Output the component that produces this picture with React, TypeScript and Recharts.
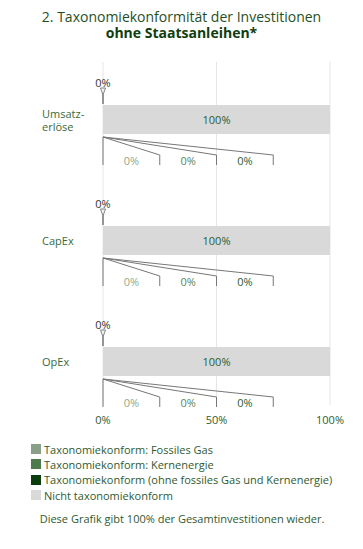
import React from "react";
import { BarChart, Bar, XAxis, YAxis, CartesianGrid, LabelList } from "recharts";

// ---- data ----
const categories = ["Umsatzerlöse", "CapEx", "OpEx"];
const fossilesGas = [0, 0, 0];
const kernenergie = [0, 0, 0];
const ohneGasKern = [0, 0, 0];
const nichtKonform = [100, 100, 100];
const xTicks = [0, 50, 100];
const categoryLines: Record<string, string[]> = {
  "Umsatzerlöse": ["Umsatz-", "erlöse"],
};

const seriesNames = [
  "Taxonomiekonform: Fossiles Gas",
  "Taxonomiekonform: Kernenergie",
  "Taxonomiekonform (ohne fossiles Gas und Kernenergie)",
  "Nicht taxonomiekonform",
];
const seriesKeys = ["gas", "kern", "ohne", "nicht"];
const seriesValues = [fossilesGas, kernenergie, ohneGasKern, nichtKonform];
const seriesColors = ["#8a9f88", "#4d7a4d", "#0b3c0b", "#d9d9d9"];
const labelColors = ["#8fa98c", "#5b865b", "#2f5c2f"];

const data = categories.map((c, i) => ({
  name: c,
  gas: fossilesGas[i],
  kern: kernenergie[i],
  ohne: ohneGasKern[i],
  nicht: nichtKonform[i],
}));

// ---- layout ----
const FONT = "'Open Sans', sans-serif";
const W = 363;
const H = 452;
const MARGIN = { top: 59, right: 33, bottom: 0, left: 0 };
const YAXIS_W = 103;
const TEXT_GREEN = "#2e5b2e";
const LINE = "#777";

// Labels for all series are drawn from the last (non-zero) bar, whose geometry gives the scale.
const allLabels = (props: any) => {
  const i = props.index;
  const bx = Number(props.x);
  const bw = Number(props.width);
  const by = Number(props.y);
  const bh = Number(props.height);
  const nicht = nichtKonform[i];
  const before = fossilesGas[i] + kernenergie[i] + ohneGasKern[i];
  const unit = bw / nicht; // px per percent
  const x0 = bx - before * unit; // 0%
  const plotW = 100 * unit;
  const bottom = by + bh;
  const top = by;
  const total = before;
  return (
    <g>
      {/* centered label of the bar */}
      <text x={bx + bw / 2} y={by + bh / 2} textAnchor="middle" dominantBaseline="central" fill={TEXT_GREEN} fontSize={11} fontFamily={FONT}>
        {`${nicht}%`}
      </text>
      {/* top label: taxonomy-aligned total */}
      <text x={x0} y={top - 23} textAnchor="middle" dominantBaseline="central" fill="#333" fontSize={11} fontFamily={FONT}>
        {`${total}%`}
      </text>
      <path
        d={`M${x0 - 2.5},${top - 17} L${x0 + 2.5},${top - 17} L${x0},${top - 10} Z`}
        fill="none"
        stroke="#666"
        strokeWidth={0.8}
      />
      <line x1={x0} y1={top - 10} x2={x0} y2={top - 1} stroke="#555" strokeWidth={1.2} />
      {/* fan labels for the three green series */}
      <line x1={x0} y1={bottom + 3} x2={x0} y2={bottom + 31} stroke={LINE} strokeWidth={1} />
      {[0, 1, 2].map((k) => {
        const px = x0 + (plotW * k) / 4;
        const tx = x0 + (plotW * (k + 1)) / 4;
        return (
          <g key={k}>
            <line x1={x0} y1={bottom + 3} x2={tx} y2={bottom + 21} stroke={LINE} strokeWidth={1} />
            <line x1={tx} y1={bottom + 21} x2={tx} y2={bottom + 31} stroke={LINE} strokeWidth={1} />
            <text
              x={(px + tx) / 2}
              y={bottom + 26}
              textAnchor="middle"
              dominantBaseline="central"
              fill={labelColors[k]}
              fontSize={11}
              fontFamily={FONT}
            >
              {`${seriesValues[k][i]}%`}
            </text>
          </g>
        );
      })}
    </g>
  );
};

const YTick = (props: any) => {
  const { y, payload } = props;
  const lines = categoryLines[payload.value] || [payload.value];
  const step = 13;
  const start = y - ((lines.length - 1) * step) / 2;
  return (
    <g>
      {lines.map((l: string, k: number) => (
        <text
          key={k}
          x={42}
          y={start + k * step}
          textAnchor="start"
          dominantBaseline="central"
          fill="#3a6a3a"
          fontSize={11}
          fontFamily={FONT}
        >
          {l}
        </text>
      ))}
    </g>
  );
};

const XTick = (props: any) => {
  const { x, y, payload } = props;
  return (
    <text x={x} y={y - 3} textAnchor="middle" dominantBaseline="central" fill={TEXT_GREEN} fontSize={11} fontFamily={FONT}>
      {`${payload.value}%`}
    </text>
  );
};

const gridLine = (props: any) => (
  <line
    key={`${props.x1}-${props.index}`}
    x1={props.x1}
    x2={props.x2}
    y1={props.y1 + 3}
    y2={props.y2 - 17}
    stroke="#e6e6e6"
    strokeWidth={1}
  />
);

export default function App() {
  return (
    <div style={{ position: "absolute", left: 0, top: 0, width: 363, height: 549, fontFamily: FONT, background: "#fff" }}>
      <div
        style={{
          position: "absolute",
          top: 9,
          left: 0,
          width: W,
          textAlign: "center",
          fontSize: 14,
          lineHeight: "16px",
          color: "#1f4f1f",
        }}
      >
        <div>2. Taxonomiekonformität der Investitionen</div>
        <div style={{ fontWeight: 700, color: "#0f3d0f" }}>ohne Staatsanleihen*</div>
      </div>
      <div style={{ position: "absolute", top: 0, left: 0 }}>
        <BarChart width={W} height={H} data={data} layout="vertical" margin={MARGIN} barSize={29}>
          <CartesianGrid horizontal={false} vertical={gridLine} />
          <XAxis
            type="number"
            domain={[0, 100]}
            ticks={xTicks}
            axisLine={false}
            tickLine={false}
            tickSize={0}
            tickMargin={0}
            height={30}
            tick={<XTick />}
            interval={0}
          />
          <YAxis
            type="category"
            dataKey="name"
            width={YAXIS_W}
            axisLine={false}
            tickLine={false}
            tick={<YTick />}
            interval={0}
          />
          {seriesKeys.map((k, i) => (
            <Bar key={k} dataKey={k} name={seriesNames[i]} stackId="a" fill={seriesColors[i]} isAnimationActive={false}>
              {i === 3 && <LabelList dataKey={k} content={allLabels} />}
            </Bar>
          ))}
        </BarChart>
      </div>
      <div style={{ position: "absolute", top: 441.5, left: 31, fontSize: 11, color: "#2f5a2f" }}>
        {seriesNames.map((n, i) => (
          <div key={n} style={{ height: 15.33, display: "flex", alignItems: "center", whiteSpace: "nowrap" }}>
            <span style={{ display: "inline-block", width: 10, height: 10, background: seriesColors[i], marginRight: 3 }} />
            <span>{n}</span>
          </div>
        ))}
      </div>
      <div
        style={{
          position: "absolute",
          top: 511,
          left: 0,
          width: 364,
          textAlign: "center",
          fontSize: 11,
          lineHeight: "16px",
          color: "#2f5a2f",
        }}
      >
        Diese Grafik gibt 100% der Gesamtinvestitionen wieder.
      </div>
    </div>
  );
}
